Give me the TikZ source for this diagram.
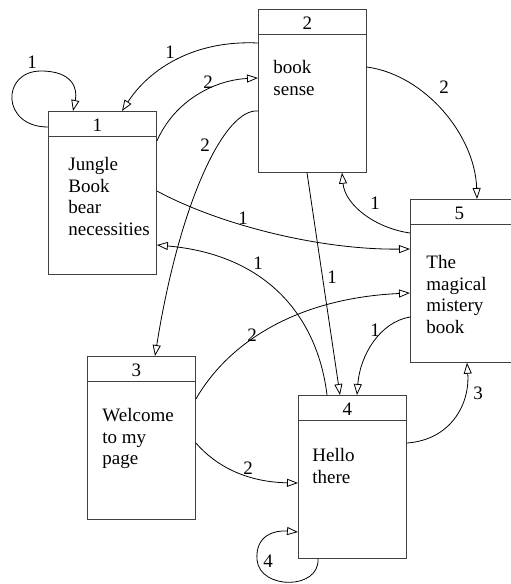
\documentclass[tikz,border=0pt]{standalone}
\usepackage{fontspec}
\setmainfont{Liberation Serif}
\usetikzlibrary{shapes}
\usetikzlibrary{arrows.meta}

\newcommand{\pagenum}[1]{\rule[-4pt]{0pt}{24pt}\makebox[0pt][c]{\kern-10pt #1}}
\newcommand{\pagebody}[3]{\parbox[t][137pt][t]{108pt}{\vspace*{#1}\hspace*{#2}\begin{tabular}[t]{@{}l@{}}#3\end{tabular}}}

\begin{document}
\begin{tikzpicture}[x=1pt,y=-1pt]
				\tikzstyle{page}=[rectangle split, rectangle split parts=2, draw=black!75, line width=0.9pt, inner sep=0pt, anchor=north west, font=\fontsize{19}{21.5}\selectfont]
				\tikzstyle{link}=[-{Triangle[open,length=11pt,width=8pt]}, line width=0.8pt]
				\tikzstyle{lbl}=[inner sep=0pt, font=\fontsize{19}{21.5}\selectfont]
				\useasboundingbox (0,0) rectangle (511,584);
				\clip (0,0) rectangle (511,584);
				
				\node[page] (p1) at (48,111) {\pagenum{1} \nodepart{two} \pagebody{19pt}{20pt}{Jungle\\Book\\bear\\necessities}};
				\node[page] (p2) at (258,9) {\pagenum{2} \nodepart{two} \pagebody{24pt}{15pt}{book\\sense}};
				\node[page] (p3) at (87,356) {\pagenum{3} \nodepart{two} \pagebody{25pt}{15pt}{Welcome\\to my\\page}};
				\node[page] (p4) at (298,395) {\pagenum{4} \nodepart{two} \pagebody{26pt}{14pt}{Hello\\there}};
				\node[page] (p5) at (410,199) {\pagenum{5} \nodepart{two} \pagebody{29pt}{16pt}{The\\magical\\mistery\\book}};
				
				% links
				\draw[link] ([yshift=-16pt]p1.north west) .. controls (1,127) and (1,71) .. (41,71) .. controls (72,71) and (78,88) .. ([xshift=25pt]p1.north west) node[lbl] at (32,62) {1};
				\draw[link] ([yshift=-34pt]p2.north west) .. controls (195,40) and (150,68) .. ([xshift=74pt]p1.north west) node[lbl] at (170,52) {1};
				\draw[link] ([yshift=-30pt]p1.north east) .. controls (175,100) and (215,80) .. ([yshift=-69pt]p2.north west) node[lbl] at (208,82) {2};
				\draw[link] ([yshift=-102pt]p2.north west) .. controls (225,108) and (180,200) .. ([xshift=68pt]p3.north west) node[lbl] at (205,145) {2};
				\draw[link] ([yshift=-58pt]p2.north east) .. controls (425,75) and (475,135) .. ([xshift=67pt]p5.north west) node[lbl] at (444,87) {2};
				\draw[link] ([yshift=-34pt]p5.north west) .. controls (375,228) and (345,205) .. ([xshift=84pt]p2.south west) node[lbl] at (375,203) {1};
				\draw[link] ([yshift=-80pt]p1.north east) .. controls (220,225) and (320,250) .. ([yshift=-50pt]p5.north west) node[lbl] at (243,218) {1};
				\draw[link] ([xshift=29pt]p4.north west) .. controls (318,320) and (270,255) .. ([yshift=-134pt]p1.north east) node[lbl] at (258,263) {1};
				\draw[link] ([xshift=49pt]p2.south west) -- ([xshift=42pt]p4.north west) node[lbl] at (332,277) {1};
				\draw[link] ([yshift=-43pt]p3.north east) .. controls (230,340) and (300,298) .. ([yshift=-94pt]p5.north west) node[lbl] at (252,335) {2};
				\draw[link] ([yshift=-118pt]p5.north west) .. controls (380,322) and (360,355) .. ([xshift=59pt]p4.north west) node[lbl] at (375,330) {1};
				\draw[link] ([yshift=-87pt]p3.north east) .. controls (215,465) and (245,482) .. ([yshift=-88pt]p4.north west) node[lbl] at (248,468) {2};
				\draw[link] ([yshift=-48pt]p4.north east) .. controls (450,440) and (470,405) .. ([xshift=57pt]p5.south west) node[lbl] at (478,393) {3};
				\draw[link] ([xshift=20pt]p4.south west) .. controls (320,590) and (260,590) .. (257,560) .. controls (255,535) and (275,530) .. ([yshift=-137pt]p4.north west) node[lbl] at (268,561) {4};
				
\end{tikzpicture}
\end{document}
